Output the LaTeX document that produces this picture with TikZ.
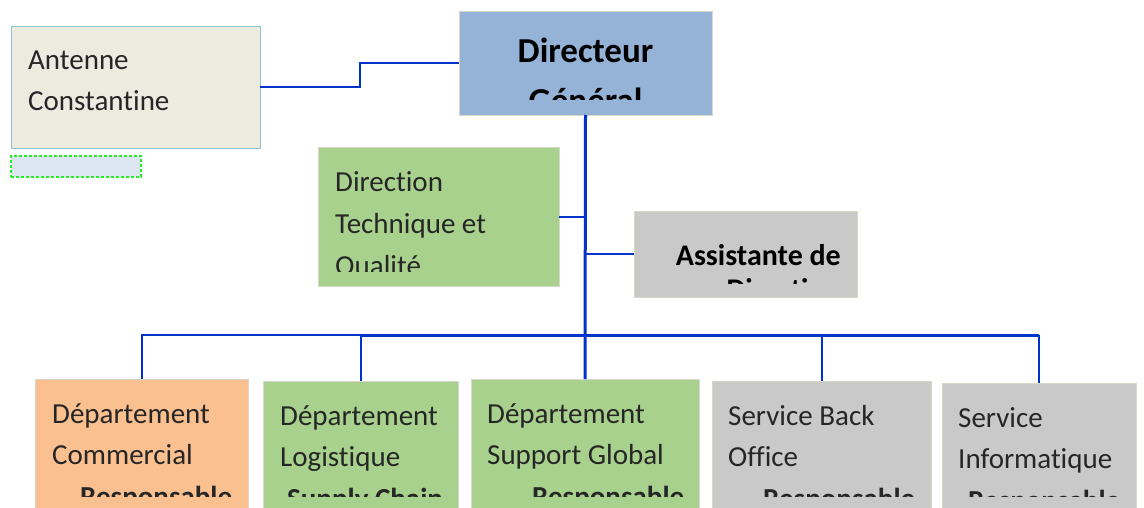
\documentclass[tikz,border=0pt]{standalone}
\usepackage{fontspec}
\setmainfont{Carlito}[Ligatures={NoCommon,NoRequired,NoContextual}, Contextuals=NoAlternate]
\usepackage{xcolor}
\usetikzlibrary{positioning, calc}
\definecolor{bleulien}{HTML}{0033CC}
\definecolor{bordgris}{HTML}{D9D8C8}
\definecolor{bordbleu}{HTML}{8CC6D4}
\definecolor{bordvert}{HTML}{22EE22}
\definecolor{fondcreme}{HTML}{EDEBE0}
\definecolor{fondbleu}{HTML}{95B3D7}
\definecolor{fondvert}{HTML}{A9D18E}
\definecolor{fondgris}{HTML}{C9C9C9}
\definecolor{fondorange}{HTML}{FAC090}
\definecolor{fondciel}{HTML}{DCE6F2}
\definecolor{noirtexte}{HTML}{262626}
\tikzset{
    cadre/.style={draw=bordgris, line width=0.8pt, inner sep=0pt, outer sep=0pt, anchor=north west},
    liaison/.style={draw=bleulien, line width=2pt},
    tronc/.style={draw=bleulien, line width=3pt},
    % ancre sur la ligne de base de la derniere ligne
    texte/.style={inner sep=0pt, align=left, anchor=base west, text=noirtexte, font=\fontsize{29}{41.7}\selectfont},
}

\begin{document}
\begin{tikzpicture}[x=1pt, y=-1pt]
\useasboundingbox (0,0) rectangle (1144,508);
\clip (0,0) rectangle (1144,508);

% Cadres du haut
\node[cadre, draw=bordbleu, fill=fondcreme, minimum width=249pt, minimum height=122pt] (antenne) at (11,26) {};
\node[cadre, draw=bordvert, dash pattern=on 3pt off 2pt, line width=1.2pt, fill=fondciel, minimum width=130pt, minimum height=21pt] (zone) at (11,156) {};
\node[cadre, fill=fondbleu, minimum width=253pt, minimum height=104pt] (dg) at (459,11) {};
\node[cadre, fill=fondvert, minimum width=241pt, minimum height=139pt] (dirtech) at (318,147) {};
\node[cadre, fill=fondgris, minimum width=223pt, minimum height=86pt] (assist) at (634,211) {};

% Départements et services
\node[cadre, fill=fondorange, minimum width=213pt, minimum height=160pt] (com) at (35,379) {};
\node[cadre, fill=fondvert, minimum width=195pt, minimum height=160pt] (logi) at (263,381) {};
\node[cadre, fill=fondvert, minimum width=228pt, minimum height=160pt] (supp) at (471,379) {};
\node[cadre, fill=fondgris, minimum width=219pt, minimum height=160pt] (back) at (712,381) {};
\node[cadre, fill=fondgris, minimum width=194pt, minimum height=160pt] (info) at (942,383) {};

% Liaisons
\coordinate (bus) at (585,335);
\draw[liaison] (antenne.east) -- ++(100,0) |- (dg.west);
\draw[tronc] (dg.south) -- (supp.north);
\draw[liaison] (dirtech.east) -- (dirtech.east -| dg.south);
\draw[liaison] (assist.west) -- (assist.west -| dg.south);
\draw[tronc] (logi.north |- bus) -- (info.north |- bus);
\draw[liaison] (com.north) |- (logi.north |- bus);
\foreach \n in {logi,back,info}
    \draw[liaison] (\n.north) -- (\n.north |- bus);

% Textes
\node[texte] (antenne-t) at (28,111) {Antenne\\Constantine};

\begin{scope}
\clip (459,11) rectangle (712,100);
\node[texte, anchor=base, align=center, text=black, font=\fontsize{35}{50}\selectfont\bfseries] (dg-t) at (585.5,113) {Directeur\\Général};
\end{scope}

\begin{scope}
\clip (318,147) rectangle (559,271);
\node[texte] (dirtech-t) at (335,275.1) {Direction\\Technique et\\Qualité};
\end{scope}

\begin{scope}
\clip (634,211) rectangle (857,283);
\node[texte, anchor=base east, align=right, text=black, font=\fontsize{30}{34}\selectfont\bfseries] (assist-t) at (841,299) {Assistante de\\Direction};
\end{scope}

\begin{scope}
\clip (0,370) rectangle (1144,496);
\node[texte] (com-t) at (52,506.4) {Département\\Commercial\\\hspace*{28pt}\textbf{Responsable}};
\node[texte] (logi-t) at (280,508.4) {Département\\Logistique\\\hspace*{7pt}\textbf{Supply Chain}};
\node[texte] (supp-t) at (487,506.4) {Département\\Support Global\\\hspace*{45pt}\textbf{Responsable}};
\node[texte] (back-t) at (728,508.4) {Service Back\\Office\\\hspace*{35pt}\textbf{Responsable}};
\node[texte] (info-t) at (958,510.4) {Service\\Informatique\\\hspace*{10pt}\textbf{Responsable}};
\end{scope}
\end{tikzpicture}
\end{document}
